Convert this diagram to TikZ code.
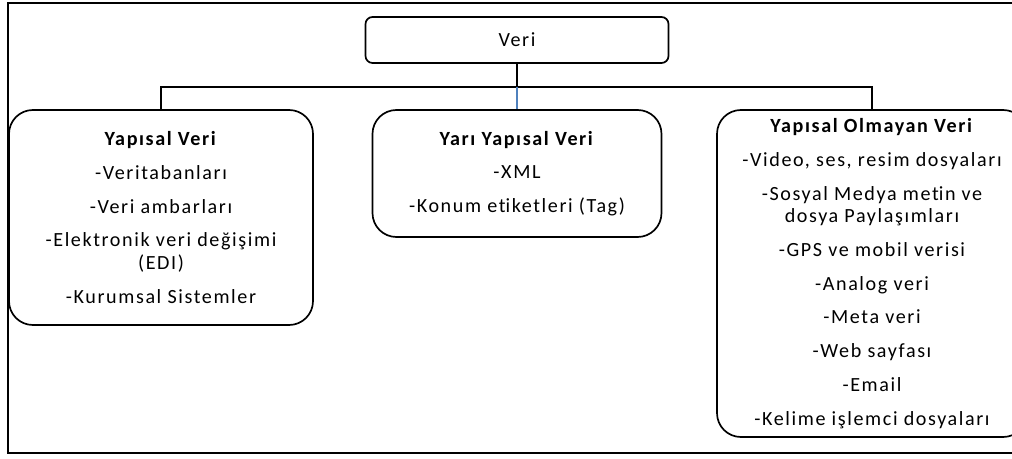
\documentclass[tikz,border=0pt]{standalone}
\usepackage{fontspec}
\setmainfont{Carlito}[LetterSpace=8.0, Ligatures=NoCommon]
\definecolor{ofismavi}{RGB}{79,129,189}
\newcommand{\tI}{t\kern0pt i}
\begin{document}
\begin{tikzpicture}[x=0.025cm, y=-0.025cm,
  kutu/.style={draw, line width=1.2pt, rounded corners=17pt, align=center,
    inner sep=0pt, font=\fontsize{14.3}{16}\selectfont},
  hat/.style={line width=1.2pt}]
\def\u{0.025cm}
\useasboundingbox (0,0) rectangle (1012,459);
\clip (0,0) rectangle (1012,459);
% dis cerceve
\draw[hat] (8,3) rectangle (1040,453);
% kutular
\node[kutu, rounded corners=5pt, minimum width=303*\u, minimum height=46*\u] (veri) at (517,40) {Veri};
\node[kutu, minimum width=304*\u, minimum height=215*\u] (yapisal) at (161,217.5) {
\textbf{Yapısal Veri}\\[8pt]
-Veritabanları\\[8pt]
-Veri ambarları\\[8pt]
-Elektronik veri değişimi\\
(EDI)\\[8pt]
-Kurumsal Sistemler};
\node[kutu, minimum width=289*\u, minimum height=127*\u] (yari) at (517,173.5) {
\textbf{Yarı Yapısal Veri}\\[8pt]
-XML\\[8pt]
-Konum e\tI ketleri (Tag)};
\node[kutu, minimum width=310*\u, minimum height=327*\u] (olmayan) at (872,273.5) {
\textbf{Yapısal Olmayan Veri}\\[8pt]
-Video, ses, resim dosyaları\\[8pt]
-Sosyal Medya me\tI n ve\\
dosya Paylaşımları\\[8pt]
-GPS ve mobil verisi\\[8pt]
-Analog veri\\[8pt]
-Meta veri\\[8pt]
-Web sayfası\\[8pt]
-Email\\[8pt]
-Kelime işlemci dosyaları};
% baglantilar
\coordinate (hub) at (517,87);
\draw[hat] (veri.south) -- (hub);
\draw[hat] (yapisal.north) |- (hub) -| (olmayan.north);
\draw[line width=1pt, ofismavi] (hub) -- (yari.north);
\end{tikzpicture}
\end{document}
